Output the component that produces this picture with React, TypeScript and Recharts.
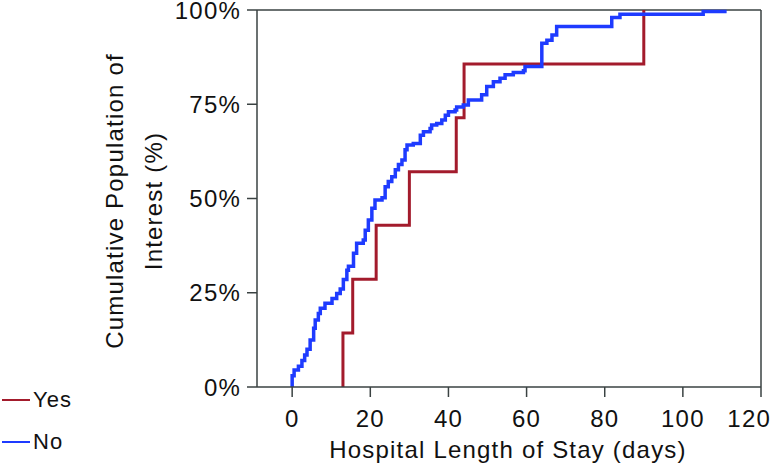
import React from "react";
import { LineChart, Line, XAxis, YAxis, ReferenceLine } from "recharts";

const xTicks = [0, 20, 40, 60, 80, 100, 120];
const yTicks = [0, 25, 50, 75, 100];

const seriesNames = ["Yes", "No"];
const seriesColors = ["#A31B2C", "#1E3BFF"];

const xTitle = "Hospital Length of Stay (days)";
const yTitleLines = ["Cumulative Population of", "Interest (%)"];

const yesDays = [13, 13, 15.5, 21.5, 30, 42, 44, 90];
const yesPct = [0, 14.3, 28.6, 42.9, 57.1, 71.4, 85.7, 100];

const noDays = [
  0, 0, 0.5, 1.6, 2.5, 3.2, 3.8, 4.6, 5.5, 5.9, 6.7, 7.2, 8.4, 10.2, 11.4, 12.3, 13.1, 14, 14.4,
  15.7, 16.5, 18.2, 18.7, 19.5, 20.4, 21.2, 23, 23.8, 24.6, 25.5, 26.4, 27.2, 28.1, 28.9, 29.4,
  31, 32.8, 33.6, 35.3, 35.7, 37, 38.3, 39.2, 40, 41.7, 42.1, 43.8, 45.1, 48.5, 49.8, 51.5, 53.2,
  54.5, 56.6, 59.2, 59.6, 63.9, 65.2, 66.5, 67.7, 81.8, 83.9, 105.2, 111.2,
];
const noPct = [
  0, 3, 4.5, 5.5, 7, 8.5, 10, 12.5, 15.6, 17.8, 19.5, 20.9, 22.2, 23.5, 24.8, 26, 28.5, 31, 32,
  35.5, 38.1, 39, 41.6, 44.3, 47.4, 49.6, 50.2, 53.1, 54.5, 55.8, 57.6, 59, 60.2, 62.9, 64.2,
  64.6, 66.8, 67.7, 68.6, 69.5, 69.9, 70.8, 72.1, 73, 73.5, 74.3, 74.8, 76.1, 77.5, 79.7, 81, 81.9,
  82.8, 83.4, 83.9, 85, 91.2, 92, 93.4, 95.6, 98, 98.9, 99.6, 99.6,
];

const yesData = yesDays.map((x, i) => ({ x, y: yesPct[i] }));
const noData = noDays.map((x, i) => ({ x, y: noPct[i] }));

const FONT = "'Liberation Sans', Arial, Helvetica, sans-serif";
const AXIS = "#3a4242";
const FS = 24;
const LS = 1.2;
const W = 776;
const H = 465;

const XTick = (props: any) => {
  const { x, y, payload } = props;
  const last = payload.value === xTicks[xTicks.length - 1];
  return (
    <text
      x={last ? W - 5 : x}
      y={y}
      dy="0.71em"
      textAnchor={last ? "end" : "middle"}
      fontFamily={FONT}
      fontSize={FS}
      letterSpacing={LS}
      fill="#111"
    >
      {payload.value}
    </text>
  );
};

const YTick = (props: any) => {
  const { x, y, payload } = props;
  return (
    <text x={x} y={y} dy="0.355em" textAnchor="end" fontFamily={FONT} fontSize={FS} letterSpacing={LS} fill="#111">
      {`${payload.value}%`}
    </text>
  );
};

export default function App() {
  return (
    <div style={{ position: "absolute", left: 0, top: 0, width: W, height: H, background: "#fff" }}>
      <LineChart width={W} height={H} margin={{ top: 10, right: 15, left: 0, bottom: 0 }}>
        <XAxis
          type="number"
          dataKey="x"
          domain={[-9, 120]}
          ticks={xTicks}
          allowDataOverflow
          height={78}
          tickSize={10}
          tickMargin={13}
          stroke={AXIS}
          strokeWidth={1.5}
          tick={<XTick />}
        />
        <YAxis
          type="number"
          dataKey="y"
          domain={[0, 100]}
          ticks={yTicks}
          width={257}
          tickSize={10}
          tickMargin={6}
          stroke={AXIS}
          strokeWidth={1.5}
          tick={<YTick />}
        />
        <ReferenceLine y={100} stroke={AXIS} strokeWidth={1.5} />
        <ReferenceLine x={120} stroke={AXIS} strokeWidth={1.5} />
        <Line
          data={yesData}
          dataKey="y"
          name={seriesNames[0]}
          type="stepAfter"
          stroke={seriesColors[0]}
          strokeWidth={3}
          dot={false}
          isAnimationActive={false}
          strokeLinejoin="miter"
        />
        <Line
          data={noData}
          dataKey="y"
          name={seriesNames[1]}
          type="stepAfter"
          stroke={seriesColors[1]}
          strokeWidth={3.5}
          dot={false}
          isAnimationActive={false}
          strokeLinejoin="miter"
        />
      </LineChart>
      <svg
        width={W}
        height={H}
        style={{ position: "absolute", left: 0, top: 0, pointerEvents: "none" }}
      >
        <text x={508} y={458} textAnchor="middle" fontFamily={FONT} fontSize={FS} letterSpacing={LS} fill="#111">
          {xTitle}
        </text>
        {yTitleLines.map((t, i) => {
          const bx = 123 + i * 39;
          return (
            <text
              key={t}
              x={bx}
              y={201}
              transform={`rotate(-90 ${bx} 201)`}
              textAnchor="middle"
              fontFamily={FONT}
              fontSize={FS}
              letterSpacing={LS}
              fill="#111"
            >
              {t}
            </text>
          );
        })}
      </svg>
      {seriesNames.map((n, i) => (
        <div
          key={n}
          style={{
            position: "absolute",
            left: 2,
            top: i === 0 ? 387 : 429,
            height: 26,
            display: "flex",
            alignItems: "center",
            fontFamily: FONT,
            fontSize: 22,
            letterSpacing: 1,
            color: "#111",
          }}
        >
          <span style={{ display: "inline-block", width: 28, height: 2, background: seriesColors[i], marginRight: 3 }} />
          {n}
        </div>
      ))}
    </div>
  );
}
